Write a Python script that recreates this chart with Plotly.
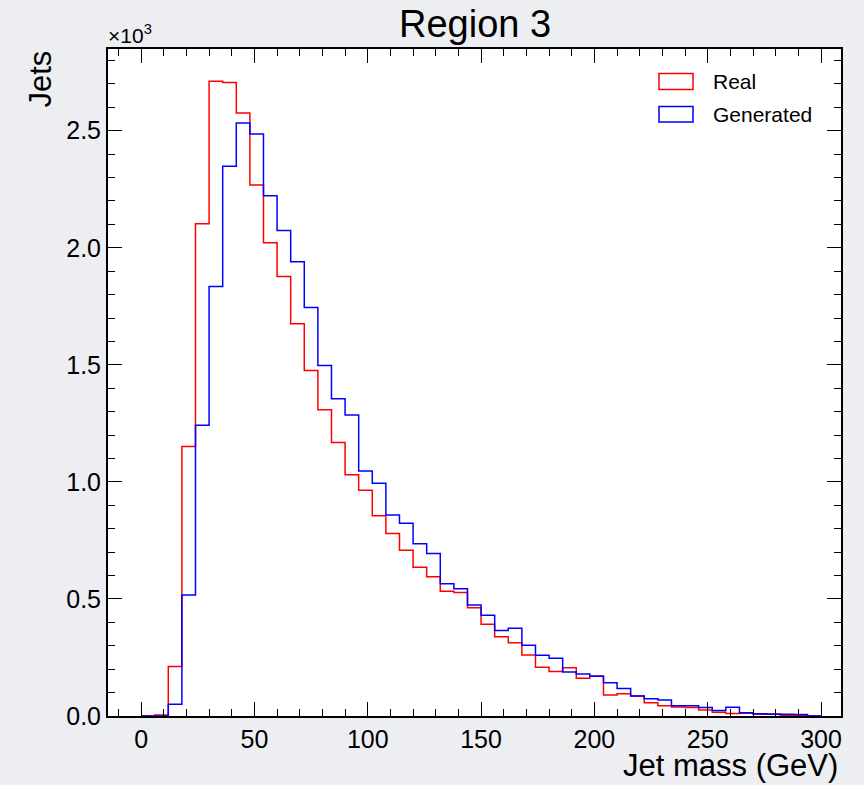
import plotly.graph_objects as go

# ---- data (counts per 6 GeV bin, bins from 0 to 300 GeV) ----
bin_edges = list(range(0, 301, 6))
real_counts = [0, 4, 211, 1151, 2103, 2711, 2706, 2576, 2268, 2021,
               1877, 1675, 1476, 1308, 1168, 1030, 964, 855, 779, 708,
               635, 595, 533, 528, 462, 392, 339, 313, 261, 208,
               190, 206, 161, 171, 90, 95, 85, 57, 44, 38,
               36, 26, 16, 11, 12, 7, 9, 3, 2, 0]
gen_counts = [0, 0, 50, 517, 1242, 1835, 2348, 2533, 2486, 2222,
              2074, 1940, 1745, 1497, 1355, 1286, 1047, 994, 859, 823,
              736, 694, 565, 544, 474, 430, 365, 375, 302, 259,
              247, 188, 179, 170, 142, 117, 85, 74, 68, 44,
              44, 36, 23, 37, 14, 10, 7, 7, 6, 0]
series_names = ["Real", "Generated"]
series_colors = ["#ff0000", "#0000ff"]
y_tickvals = [0, 500, 1000, 1500, 2000, 2500]
y_ticktext = ["0.0", "0.5", "1.0", "1.5", "2.0", "2.5"]
x_tickvals = [0, 50, 100, 150, 200, 250, 300]

# ---- layout geometry (pixels) ----
W, H = 864, 785
L, R, T, B = 108, 841, 49, 716
FONT = "Liberation Sans, Arial, Helvetica, sans-serif"


def px2x(px):
    return (px - L) / (R - L)


def px2y(py):
    return (B - py) / (B - T)


def step_xy(edges, counts):
    xs = [edges[0]]
    ys = [0]
    for i, c in enumerate(counts):
        xs.append(edges[i])
        ys.append(c)
    xs.append(edges[-1])
    ys.append(counts[-1])
    xs.append(edges[-1])
    ys.append(0)
    return xs, ys


fig = go.Figure()
for name, counts, col in zip(series_names, [real_counts, gen_counts], series_colors):
    xs, ys = step_xy(bin_edges, counts)
    fig.add_trace(go.Scatter(x=xs, y=ys, mode="lines", name=name,
                             line=dict(color=col, width=1.5, shape="hv"),
                             showlegend=False, hoverinfo="skip"))

axis_common = dict(showgrid=False, zeroline=False, showline=True, linecolor="black",
                   linewidth=2, mirror="allticks", ticks="inside", ticklen=14,
                   tickwidth=1.2, tickcolor="black",
                   tickfont=dict(family=FONT, size=25, color="black"))

fig.update_xaxes(range=[-14.6, 308.8], tickvals=x_tickvals,
                 minor=dict(dtick=10, tick0=0, ticklen=7, ticks="inside", tickcolor="black", tickwidth=1.2),
                 **axis_common)
fig.update_yaxes(range=[0, 2849], tickvals=y_tickvals, ticktext=y_ticktext,
                 minor=dict(dtick=100, tick0=0, ticklen=7, ticks="inside", tickcolor="black", tickwidth=1.2),
                 **axis_common)

annotations = [
    dict(text="Region 3", x=0.5, xref="paper", y=px2y(47), yref="paper",
         xanchor="center", yanchor="bottom", showarrow=False,
         font=dict(family=FONT, size=38, color="black")),
    dict(text="Jet mass (GeV)", x=px2x(840), xref="paper", y=px2y(785), yref="paper",
         xanchor="right", yanchor="bottom", showarrow=False,
         font=dict(family=FONT, size=31, color="black")),
    dict(text="Jets", x=px2x(40), xref="paper", y=px2y(49), yref="paper",
         xanchor="center", yanchor="top", textangle=-90, showarrow=False,
         font=dict(family=FONT, size=31, color="black")),
    dict(text="×10<sup>3</sup>", x=px2x(106), xref="paper", y=px2y(49), yref="paper",
         xanchor="left", yanchor="bottom", showarrow=False,
         font=dict(family=FONT, size=21, color="black")),
]

shapes = []
legend_rows = [(73.5, 89.5), (106.5, 122)]
for (y0, y1), name, col in zip(legend_rows, series_names, series_colors):
    shapes.append(dict(type="rect", xref="paper", yref="paper",
                       x0=px2x(659), x1=px2x(693), y0=px2y(y1), y1=px2y(y0),
                       line=dict(color=col, width=1.5), fillcolor="rgba(0,0,0,0)"))
    annotations.append(dict(text=name, x=px2x(711), xref="paper",
                            y=px2y((y0 + y1) / 2), yref="paper",
                            xanchor="left", yanchor="middle", showarrow=False,
                            font=dict(family=FONT, size=21, color="black")))

fig.update_layout(width=W, height=H,
                  margin=dict(l=L, r=W - R, t=T, b=H - B, pad=0),
                  paper_bgcolor="#edeef1", plot_bgcolor="white",
                  showlegend=False, annotations=annotations, shapes=shapes)

fig.write_html("out.html")
